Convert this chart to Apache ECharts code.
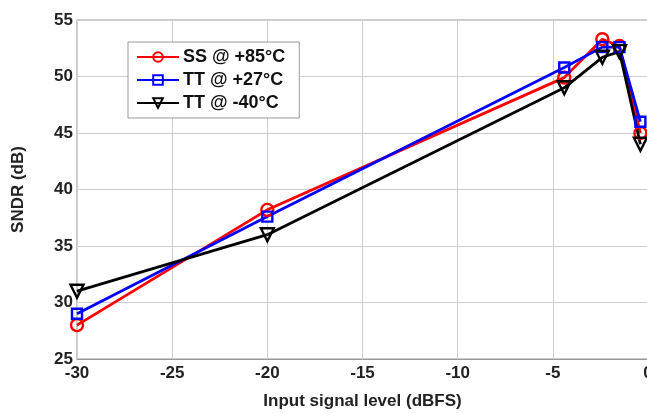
<!DOCTYPE html>
<html>
<head>
<meta charset="utf-8">
<script src="https://cdn.jsdelivr.net/npm/echarts@6/dist/echarts.min.js"></script>
<style>
  html, body { margin: 0; padding: 0; background: #fff; }
  #chart { width: 647px; height: 413px; }
</style>
</head>
<body>
<div id="chart"></div>
<script>
// Input signal level (dBFS) for each measurement
const inputLevel = [-30, -20, -4.4, -2.4, -1.5, -0.4];
// SNDR (dB) per process corner / temperature
const sndrSS85 = [28.0, 38.2, 49.9, 53.3, 52.7, 45.0];
const sndrTT27 = [29.0, 37.6, 50.8, 52.6, 52.6, 46.0];
const sndrTTm40 = [31.0, 36.0, 49.0, 51.7, 52.2, 44.0];
const seriesNames = ['SS @ +85°C', 'TT @ +27°C', 'TT @ -40°C'];
const xTicks = [-30, -25, -20, -15, -10, -5, 0];
const yTicks = [25, 30, 35, 40, 45, 50, 55];

const FONT = 'Liberation Sans, Arial, sans-serif';
const pairs = (ys) => inputLevel.map((x, i) => [x, ys[i]]);

function lineSeries(name, ys, color, symbol, size, rotate) {
  return {
    name: name,
    type: 'line',
    data: pairs(ys),
    symbol: symbol,
    symbolSize: size,
    symbolRotate: rotate || 0,
    showAllSymbol: true,
    lineStyle: { color: color, width: 2.8 },
    itemStyle: { color: 'rgba(255,255,255,0)', borderColor: color, borderWidth: 2.4 },
    emphasis: { disabled: true },
    z: 3
  };
}

const chart = echarts.init(document.getElementById('chart'), null, { renderer: 'canvas' });
chart.setOption({
  animation: false,
  backgroundColor: '#fff',
  grid: {
    left: 77, top: 20, width: 571, height: 339,
    outerBoundsMode: 'none',
    containLabel: false,
    show: true, borderColor: '#999', borderWidth: 1
  },
  xAxis: {
    type: 'value',
    min: xTicks[0], max: xTicks[xTicks.length - 1], interval: 5,
    name: 'Input signal level (dBFS)',
    nameLocation: 'middle', nameGap: 34,
    nameTextStyle: { fontFamily: FONT, fontWeight: 'bold', fontSize: 17, color: '#222' },
    axisLine: { show: true, lineStyle: { color: '#999', width: 1 } },
    axisTick: { show: false },
    axisLabel: { fontFamily: FONT, fontWeight: 'bold', fontSize: 17, color: '#222', margin: 6,
      showMinLabel: true, showMaxLabel: true, hideOverlap: false },
    splitLine: { show: true, lineStyle: { color: '#cfcfcf', width: 1 } }
  },
  yAxis: {
    type: 'value',
    min: yTicks[0], max: yTicks[yTicks.length - 1], interval: 5,
    name: 'SNDR (dB)',
    nameLocation: 'middle', nameGap: 50, nameRotate: 90,
    nameTextStyle: { fontFamily: FONT, fontWeight: 'bold', fontSize: 17, color: '#222' },
    axisLine: { show: true, lineStyle: { color: '#999', width: 1 } },
    axisTick: { show: false },
    axisLabel: { fontFamily: FONT, fontWeight: 'bold', fontSize: 17, color: '#222', margin: 4 },
    splitLine: { show: true, lineStyle: { color: '#cfcfcf', width: 1 } }
  },
  legend: {
    left: 128, top: 42,
    orient: 'vertical',
    data: seriesNames,
    itemWidth: 42, itemHeight: 12, itemGap: 5,
    padding: [6, 14, 6, 8],
    backgroundColor: '#fff',
    borderColor: '#999', borderWidth: 1, borderRadius: 0,
    textStyle: { fontFamily: FONT, fontWeight: 'bold', fontSize: 18, color: '#111', padding: [0, 0, 0, -1] }
  },
  series: [
    lineSeries(seriesNames[0], sndrSS85, '#ff0000', 'circle', 12),
    lineSeries(seriesNames[1], sndrTT27, '#0000ff', 'rect', 10),
    lineSeries(seriesNames[2], sndrTTm40, '#000000', 'triangle', 13, 180)
  ]
});
</script>
</body>
</html>
